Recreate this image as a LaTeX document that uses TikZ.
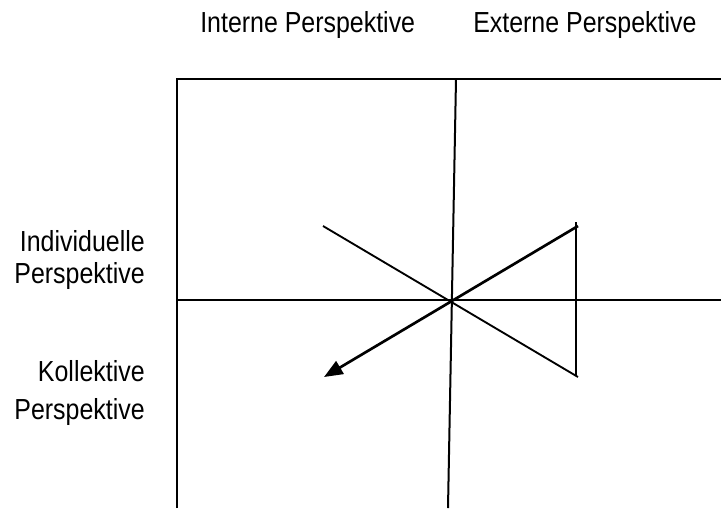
\documentclass[tikz,border=0pt]{standalone}
\usepackage{fontspec}
\setmainfont[FakeStretch=0.86]{Liberation Sans}
\usetikzlibrary{arrows.meta,positioning}
\tikzset{>=Triangle}

\begin{document}
\begin{tikzpicture}[
    x=0.75pt, y=-0.75pt,
    axis/.style={line width=1.5pt},
    ray/.style={line width=1.4pt},
    mainray/.style={line width=2pt, ->, >={Triangle[length=14pt, width=11pt]}},
    captext/.style={inner sep=0pt, font=\fontsize{21.75pt}{24pt}\selectfont},
    sidetext/.style={captext, align=right, anchor=base east}
  ]
    \useasboundingbox (0,0) rectangle (721,508);
    % frame and axes
    \coordinate (tl) at (177,79);
    \coordinate (tr) at (721,79);
    \coordinate (bl) at (177,508);
    \coordinate (vtop) at (456,79);
    \coordinate (vbot) at (448,508);
    \coordinate (hleft) at (177,300);
    \coordinate (hright) at (721,300);
    \draw[axis] (bl) -- (tl) -- (tr);
    \draw[axis] (vtop) -- (vbot);
    \draw[axis] (hleft) -- (hright);
    % rays through the centre
    \coordinate (ul) at (323,226);
    \coordinate (lr) at (578,377);
    \coordinate (ur) at (578,226);
    \coordinate (ll) at (324,377);
    \coordinate (sidetop) at (576,222);
    \coordinate (sidebot) at (576,376);
    \draw[ray] (ul) -- (lr);
    \draw[ray] (sidetop) -- (sidebot);
    \draw[mainray] (ur) -- (ll);
    % labels
    \node[captext, anchor=base west] (intern) at (200,32) {Interne Perspektive};
    \node[captext, anchor=base west] (extern) at (473,32) {Externe Perspektive};
    \node[sidetext] (indiv) at (145,283) {Individuelle\\[0pt]Perspektive};
    \node[sidetext] (kollek) at (145,419) {Kollektive\\[4.5pt]Perspektive};
\end{tikzpicture}
\end{document}
